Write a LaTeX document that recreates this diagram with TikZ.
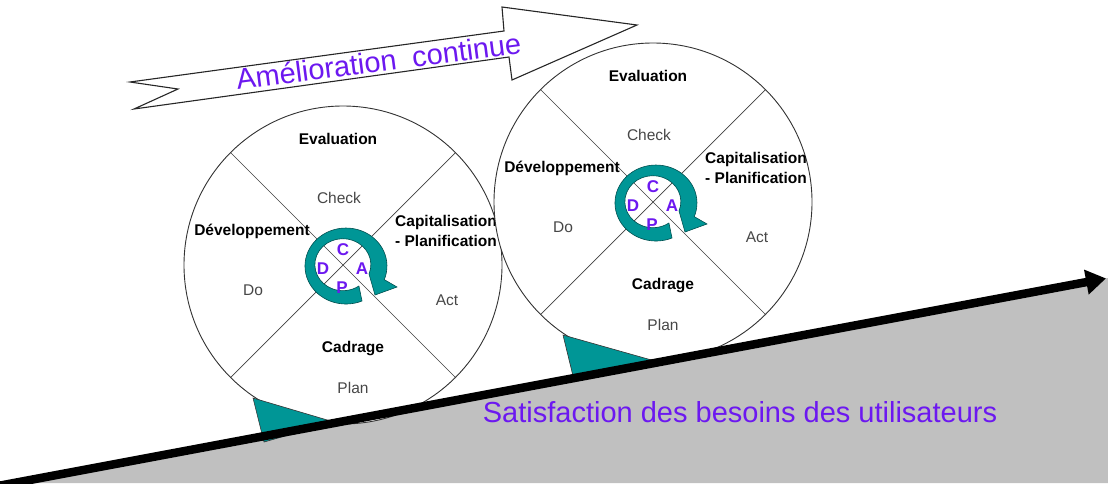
\documentclass[tikz,border=0pt]{standalone}
\usepackage{fontspec}
\setmainfont{Liberation Sans}
\usetikzlibrary{arrows.meta}
\definecolor{pdcapurple}{RGB}{108,24,240}
\definecolor{ringteal}{RGB}{0,150,150}
\definecolor{ringdark}{RGB}{0,80,80}
\definecolor{groundgray}{RGB}{192,192,192}
\tikzset{
  wheel/.style={circle, draw=black!80, line width=0.9pt, fill=white, minimum size=318pt, inner sep=0pt},
  spoke/.style={draw=black!75, line width=0.7pt},
  boldlab/.style={font=\fontsize{15.5}{19.5}\selectfont\bfseries, inner sep=0pt},
  lightlab/.style={font=\fontsize{15.5}{19.5}\selectfont, text=black!72, inner sep=0pt},
  letter/.style={font=\fontsize{17}{18}\selectfont\bfseries, text=pdcapurple, inner sep=0pt},
  ring/.style={fill=ringteal, draw=ringdark, line width=0.6pt},
  wedge/.style={fill=ringteal, draw=black!80, line width=0.6pt},
  slope/.style={line width=8.5pt, -{Triangle[length=20pt,width=24pt]}},
  bigarrow/.style={fill=white, draw=black!85, line width=1.1pt, line join=miter},
  purpletext/.style={font=\fontsize{29}{32}\selectfont, text=pdcapurple, inner sep=0pt},
}
\newcommand\pdcawheel[3]{%
  \begin{scope}[shift={(#2,#3)}]
    \node[wheel] (#1) at (0,0) {};
    \draw[spoke] (#1.45) -- (#1.225);
    \draw[spoke] (#1.135) -- (#1.315);
    \node[boldlab] (#1ev) at (-5,-126) {Evaluation};
    \node[lightlab] (#1ch) at (-4,-67) {Check};
    \node[boldlab] (#1dev) at (-91,-34) {Développement};
    \node[lightlab] (#1do) at (-90,25) {Do};
    \node[boldlab, align=left, anchor=west] (#1cap) at (52,-34) {Capitalisation\\- Planification};
    \node[lightlab] (#1act) at (104,35) {Act};
    \node[boldlab] (#1cad) at (10,84) {Cadrage};
    \node[lightlab] (#1plan) at (10,123) {Plan};
    \path[ring] (19,36) arc[start angle=67, end angle=381, x radius=41, y radius=38]
      -- (54,22) -- (32,30) -- (26,9)
      arc[start angle=381, end angle=55, x radius=28, y radius=26] -- cycle;
    \node[letter] (#1C) at (0,-15) {C};
    \node[letter] (#1D) at (-20,4) {D};
    \node[letter] (#1A) at (19,4) {A};
    \node[letter] (#1P) at (-1,23) {P};
  \end{scope}}
\begin{document}
\begin{tikzpicture}[x=1pt, y=1pt, yscale=-1]
  \useasboundingbox (0,0) rectangle (1108,483);
  % ground
  \fill[groundgray] (0,485.6) -- (1108,278) -- (1108,483) -- (0,483) -- cycle;
  % improvement arrow
  \path[bigarrow] (130,82) -- (504,31) -- (502,7) -- (637,25) -- (512,80)
    -- (509,57) -- (134,109) -- (178,89) -- cycle;
  \node[purpletext, anchor=base, rotate=7.4] (amel) at (380,71.5) {Amélioration~~continue};
  % wheels
  \pdcawheel{w1}{343}{265}
  \pdcawheel{w2}{653}{202}
  % wedges
  \path[wedge] (253,398) -- (334,422) -- (264,442) -- cycle;
  \path[wedge] (563,335) -- (655,361) -- (574,380) -- cycle;
  % slope
  \coordinate (s0) at (0,485.6);
  \coordinate (s1) at (1106,278.4);
  \draw[slope] (s0) -- (s1);
  \node[purpletext, anchor=base] (sat) at (740,422) {Satisfaction des besoins des utilisateurs};
\end{tikzpicture}
\end{document}
